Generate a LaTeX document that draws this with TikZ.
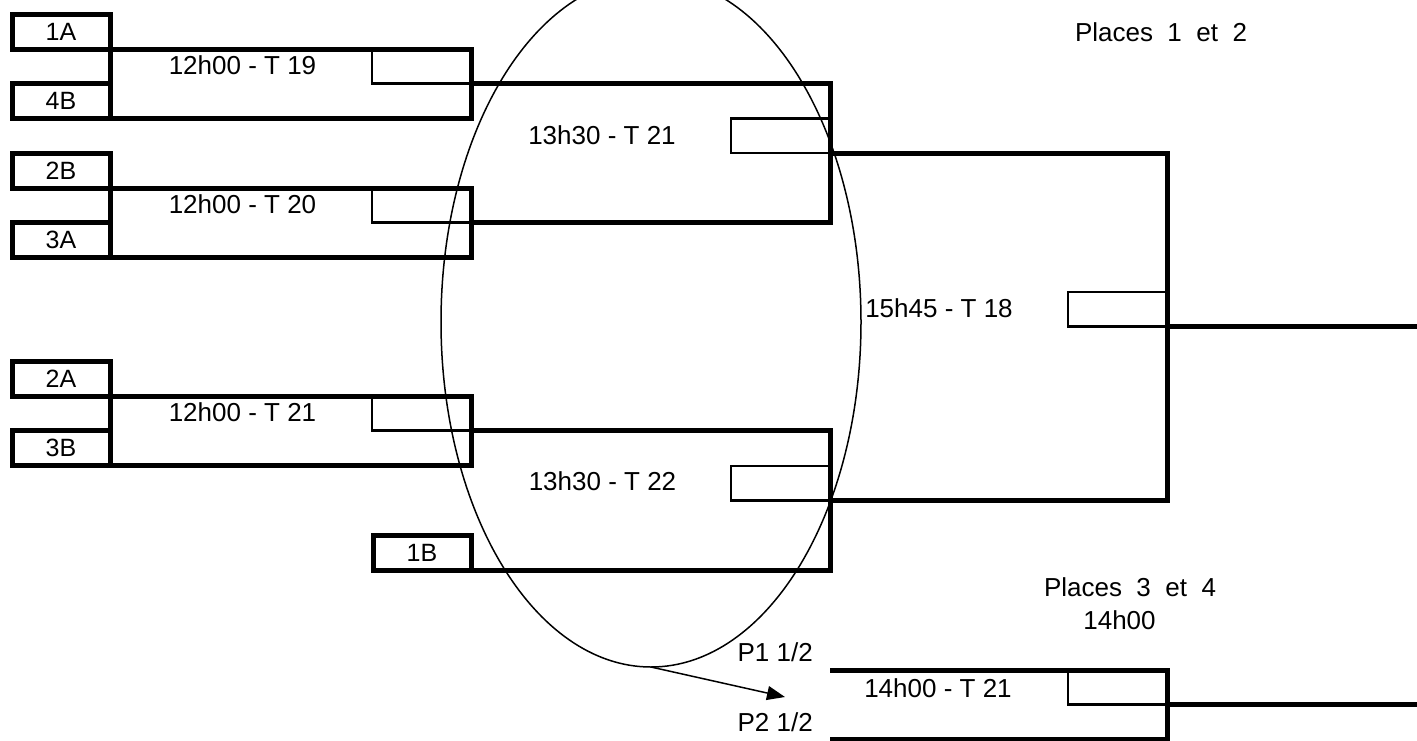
\documentclass[tikz,border=0pt]{standalone}
\usepackage{fontspec}
\setmainfont{Liberation Sans}
\usetikzlibrary{shapes.geometric,arrows.meta}
\begin{document}
\begin{tikzpicture}[x=1pt,y=-1pt,
  team/.style={draw,line width=5pt,minimum width=98pt,minimum height=34.5pt,inner sep=0pt,outer sep=0pt,font=\fontsize{25}{30}\selectfont},
  score/.style={draw,line width=2.5pt,minimum width=99pt,minimum height=34.5pt,inner sep=0pt,outer sep=0pt},
  bracket/.style={line width=5pt},
  lbl/.style={inner sep=0pt,font=\fontsize{26}{31}\selectfont}]
\useasboundingbox (0,0) rectangle (1417,740);
\node[team,anchor=south west] (t1A) at (12,49) {1A};
\node[team,anchor=north west] (t4B) at (12,83.5) {4B};
\node[team,anchor=south west] (t2B) at (12,188) {2B};
\node[team,anchor=north west] (t3A) at (12,222.5) {3A};
\node[team,anchor=south west] (t2A) at (12,396) {2A};
\node[team,anchor=north west] (t3B) at (12,430.5) {3B};
\node[team,anchor=south east] (t1B) at (471,570) {1B};
\node[score,anchor=south east] (s19) at (471,83.5) {};
\node[score,anchor=south east] (s20) at (471,222.5) {};
\node[score,anchor=south east] (s21) at (471,430.5) {};
\node[score,anchor=south east] (q21) at (830,153) {};
\node[score,anchor=south east] (q22) at (830,500.25) {};
\node[score,anchor=south east] (f18) at (1167,326.6) {};
\node[score,anchor=south east] (p34) at (1167,704.5) {};
\coordinate (p1) at (830,670);
\coordinate (p2) at (830,739);
\coordinate (out1) at (1417,326.6);
\coordinate (out2) at (1417,704.5);
\draw[bracket] (t4B.north east) -- (t1A.south east) -| (s19.south east) |- (t4B.south east);
\draw[bracket] (t3A.north east) -- (t2B.south east) -| (s20.south east) |- (t3A.south east);
\draw[bracket] (t3B.north east) -- (t2A.south east) -| (s21.south east) |- (t3B.south east);
\draw[bracket] (s19.south east) -| (q21.south east) |- (s20.south east);
\draw[bracket] (s21.south east) -| (q22.south east) |- (t1B.south east);
\draw[bracket] (q21.south east) -| (f18.south east) |- (q22.south east);
\draw[bracket] (f18.south east) -- (out1);
\draw[bracket] (p1) -| (p34.south east) |- (p2);
\draw[bracket] (p34.south east) -- (out2);
\node[lbl] (m19) at (242.5,65) {12h00 - T 19};
\node[lbl] (m20) at (242.5,204) {12h00 - T 20};
\node[lbl] (m21) at (242.5,412) {12h00 - T 21};
\node[lbl] (r21) at (602,135) {13h30 - T 21};
\node[lbl] (r22) at (602.5,481) {13h30 - T 22};
\node[lbl] (fin) at (939,308) {15h45 - T 18};
\node[lbl] (pf) at (938,688) {14h00 - T 21};
\node[lbl] (pl12) at (1161,32) {Places~~1~~et~~2};
\node[lbl] (pl34) at (1130,587.5) {Places~~3~~et~~4};
\node[lbl] (h34) at (1119.5,620) {14h00};
\node[lbl,anchor=east] (pa) at (813,652) {P1 1/2};
\node[lbl,anchor=east] (pb) at (813,722) {P2 1/2};
\node[draw,ellipse,line width=1.5pt,minimum width=420pt,minimum height=690pt,inner sep=0pt,outer sep=0pt] (ring) at (651,322) {};
\coordinate (tip) at (785,697);
\draw[line width=1.5pt,-{Triangle[length=18pt,width=14pt]}] (ring.south) -- (tip);
\end{tikzpicture}
\end{document}
